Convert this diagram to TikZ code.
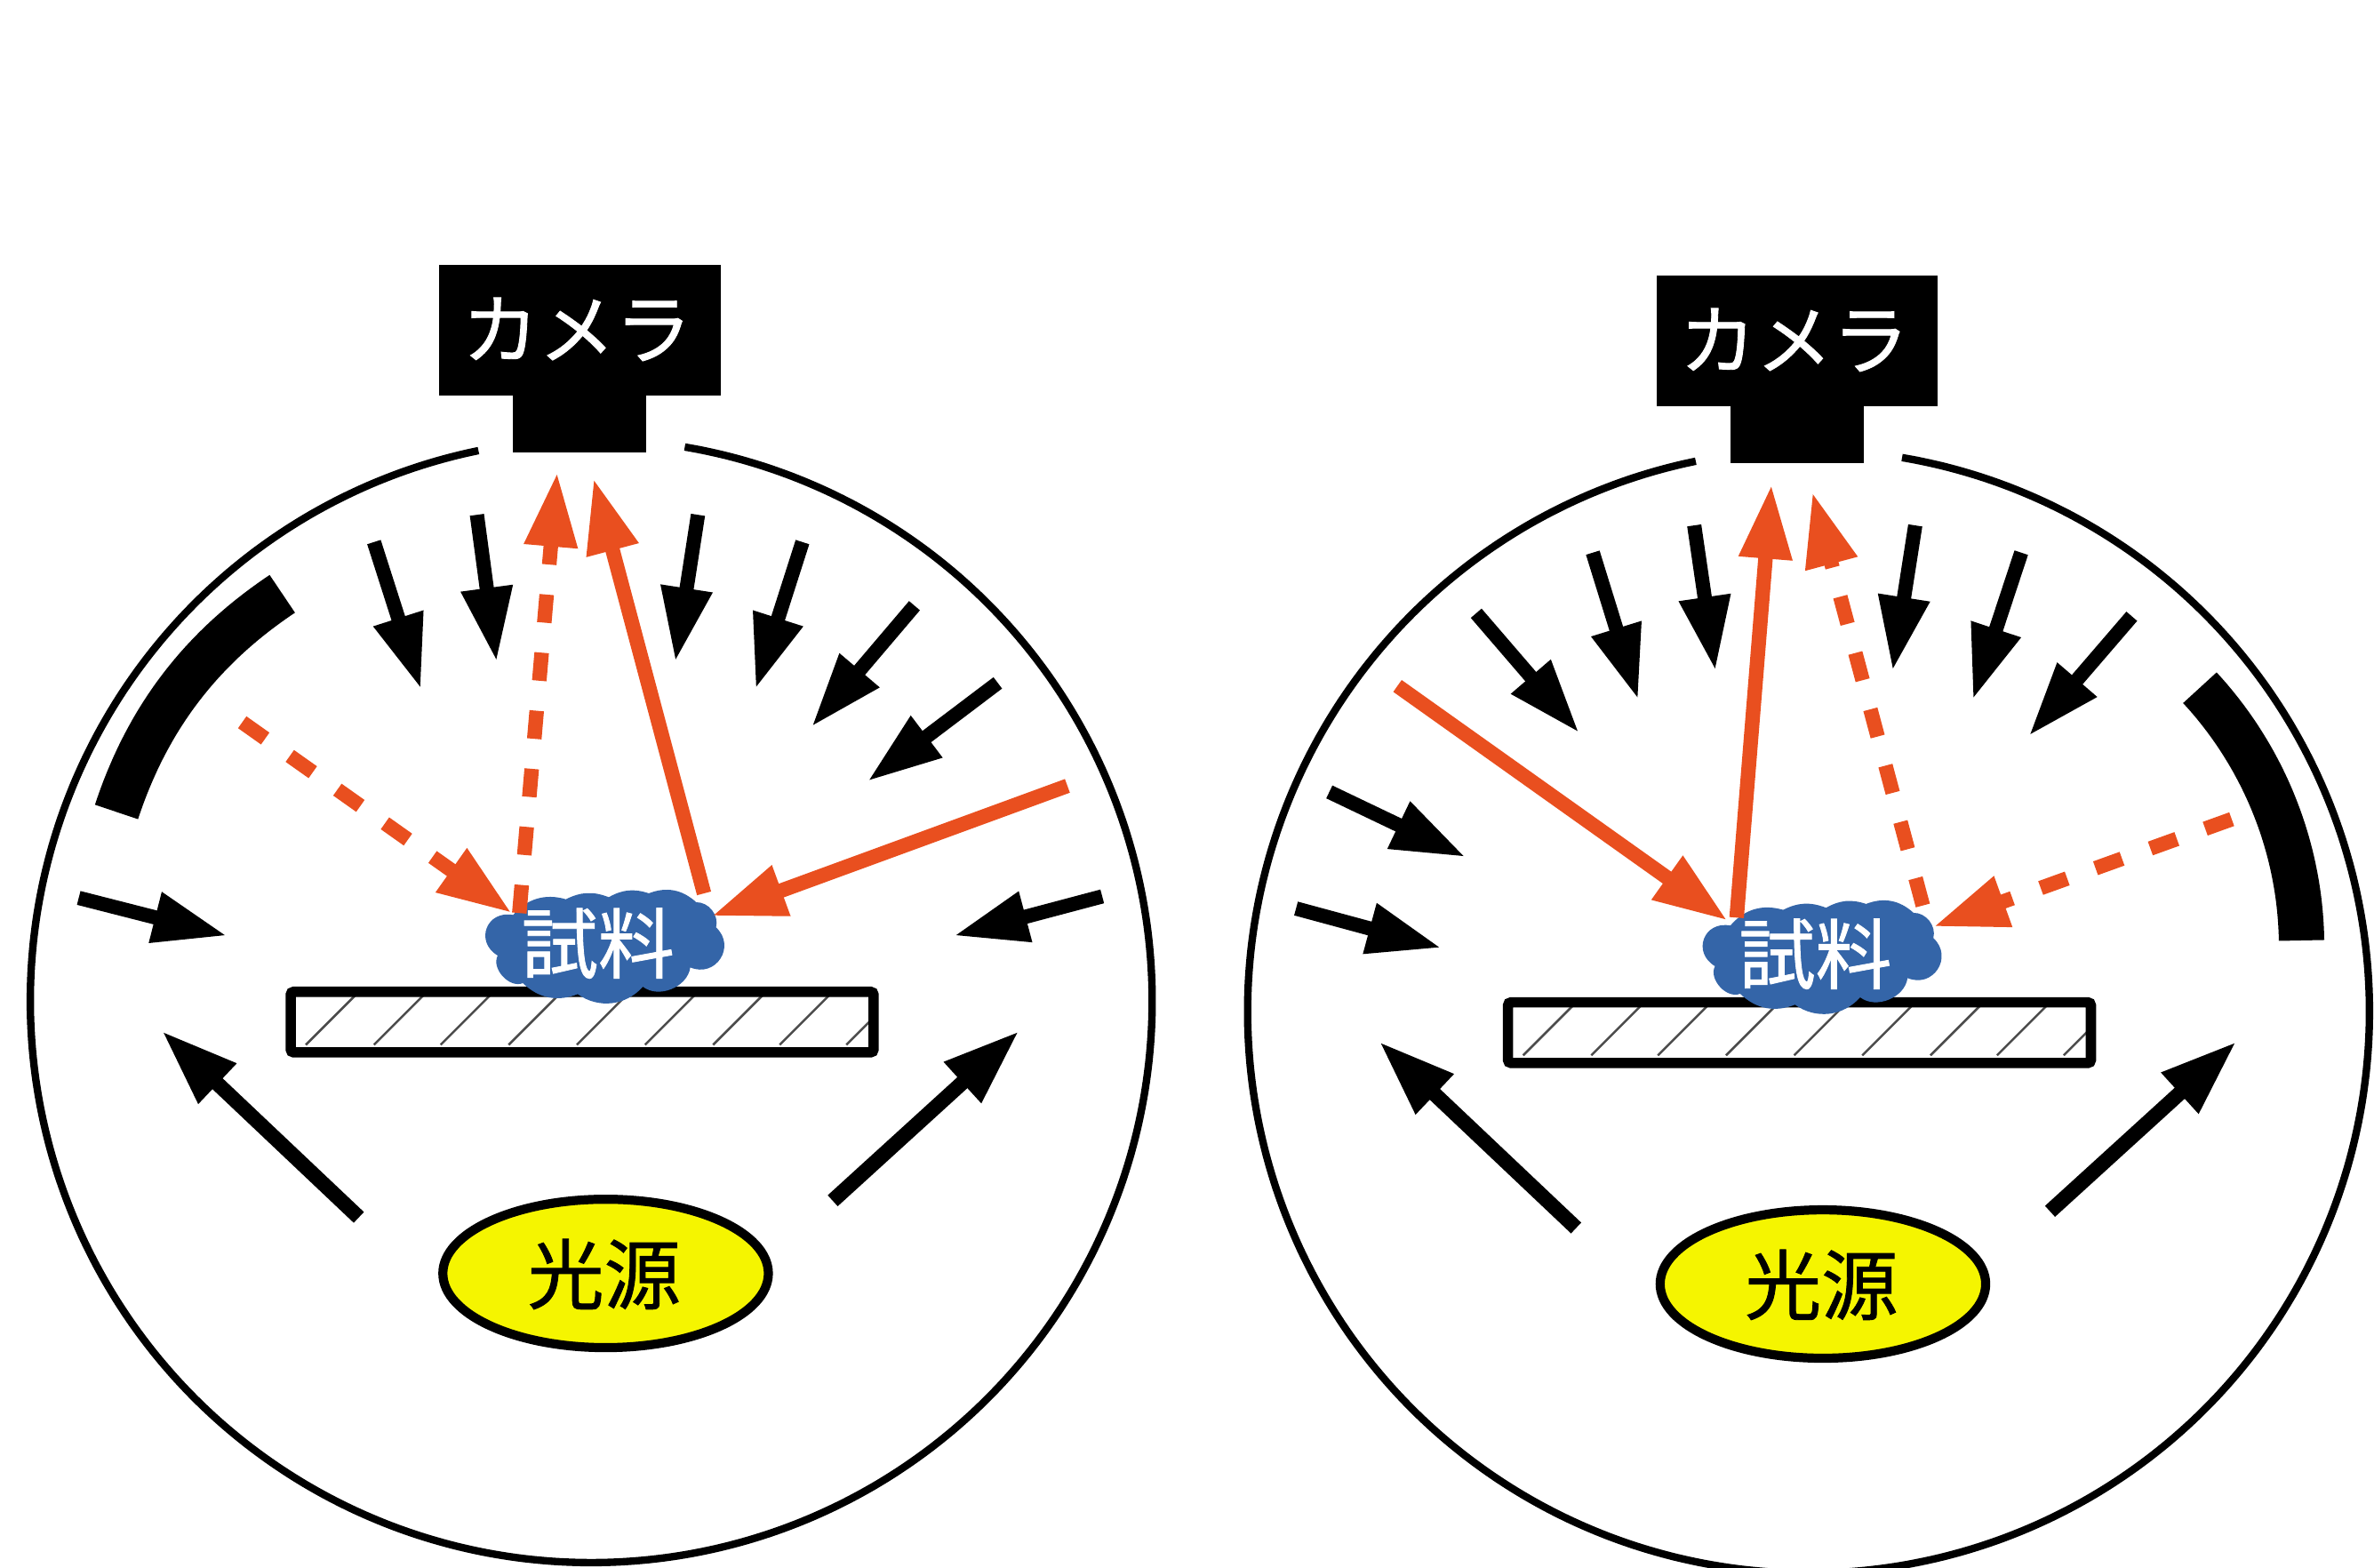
\documentclass[tikz,border=0pt]{standalone}
\usepackage{fontspec}
\newfontfamily\cjk[FakeBold=1]{Noto Sans CJK JP}
\usetikzlibrary{arrows.meta,shapes.geometric}
\definecolor{redarrow}{HTML}{E94F1F}
\definecolor{cloudblue}{HTML}{3465A8}
\definecolor{lampyellow}{HTML}{F5F500}
\tikzset{
  blackarrow/.style={draw=black,line width=9.4pt,-{Triangle[length=49pt,width=32pt]}},
  widearrow/.style={draw=black,line width=9.8pt,-{Triangle[length=50.5pt,width=34pt]}},
  redsolid/.style={draw=redarrow,line width=9.6pt,-{Triangle[length=49pt,width=33pt]}},
  reddashed/.style={redsolid,dash pattern=on 18.6pt off 19.9pt},
  dome/.style={draw=black,line width=4.9pt},
  band/.style={draw=black,line width=30pt},
  plate/.style={draw=black,line width=6.8pt,rounded corners=2pt},
  hatchline/.style={draw=black!70,line width=1.5pt},
  labeltext/.style={font=\cjk\fontsize{50.5}{50.5}\selectfont,inner sep=0pt},
}
\newcommand{\commonparts}{%
  % dome with the gap under the camera
  \draw[dome] plot[domain=101.6:440.4,samples=240,smooth] ({390.5+370.5*cos(\x)},{661-371*sin(\x)});
  % camera
  \fill[black] (290,175) rectangle (476,261);
  \fill[black] (339,261) rectangle (427,299);
  \node[labeltext,text=white] (cameralabel) at (381,217.5) {カメラ};
  % plate
  \begin{scope}
    \clip (192,655) rectangle (577,695);
    \foreach \b in {202,247,291,336,381,426,471,515,559}
      \draw[hatchline] (\b,690) -- (\b+35,655);
  \end{scope}
  \draw[plate] (192,655) rectangle (577,695);
  % lamp
  \node[draw=black,line width=6pt,fill=lampyellow,ellipse,minimum width=215pt,minimum height=98pt,inner sep=0pt] (lamp) at (400,841) {};
  \node[labeltext,text=black] (lamplabel) at (399,841.5) {光源};
  % sample cloud
  \begin{scope}[shift={(293.5,557.7)},scale=0.19568]
    \fill[cloudblue] (232,238)
      to[bend left=33] (410,185)
      to[bend left=24] (555,178)
      to[bend left=24] (690,165)
      to[bend left=32] (850,195)
      to[bend left=53] (917,280)
      to[bend left=80,looseness=1.5] (830,415)
      to[bend left=60] (670,480)
      to[bend left=42] (450,505)
      to[bend left=33] (265,468)
      to[bend left=70] (180,375)
      to[bend left=80,looseness=1.6] (232,238) -- cycle;
  \end{scope}
  \node[labeltext,text=white] (samplelabel) at (395,623) {試料};
  % bottom arrows from the lamp
  \draw[widearrow] (237,804) -- (107,681);
  \draw[widearrow] (550,793) -- (673,681);
}
\begin{document}
\begin{tikzpicture}[x=1pt,y=-1pt]
\useasboundingbox (0,0) rectangle (1568,1035);
% ---------- left chamber
\commonparts
\draw[band] plot[domain=158.3:127.2,samples=40,smooth] ({390.5+(337.5+3.5*sin(180*(\x-127.2)/31.1))*cos(\x)},{661-(337.5+3.5*sin(180*(\x-127.2)/31.1))*sin(\x)});
\foreach \sx/\sy/\ex/\ey in {247/358/278/455,315/340/328/437,461/340/446/437,530/358/499/455,604/400/536/480,659/451/573/516,52/593/150/618,728/592/630/618}
  \draw[blackarrow] (\sx,\sy) -- (\ex,\ey);
\draw[reddashed] (160,477) -- (338,603);
\draw[reddashed] (343,603) -- (368,312);
\draw[redsolid] (465,590) -- (392,316);
\draw[redsolid] (705,519) -- (470,605);
% ---------- right chamber
\begin{scope}[shift={(804,7)}]
  \commonparts
  \draw[band] plot[domain=8.2:39.6,samples=40,smooth] ({390.5+(337-8*((\x-30)/21.8)*((\x-30)/21.8))*cos(\x)},{661-(337-8*((\x-30)/21.8)*((\x-30)/21.8))*sin(\x)});
\end{scope}
\foreach \sx/\sy/\ex/\ey in {975/405/1043/484,1052/365/1082/462,1119/347/1133/443,1265/347/1250/443,1335/365/1303/462,1408/407/1340/486,878/523/968/566,856/600/952/626}
  \draw[blackarrow] (\sx,\sy) -- (\ex,\ey);
\draw[redsolid] (923,453) -- (1141,608);
\draw[redsolid] (1147,606) -- (1170,320);
\draw[reddashed] (1270,598) -- (1197,325);
\draw[reddashed] (1474,541) -- (1277,612);
\end{tikzpicture}
\end{document}
